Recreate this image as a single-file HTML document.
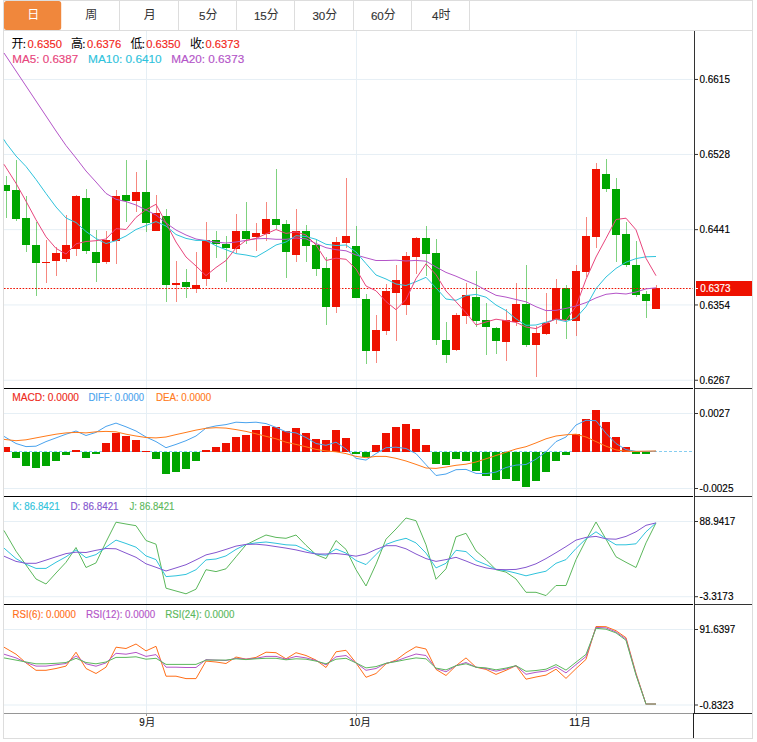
<!DOCTYPE html>
<html><head><meta charset="utf-8"><title>K</title>
<style>
html,body{margin:0;padding:0;background:#fff;}
svg{display:block;font-family:"Liberation Sans","Noto Sans CJK SC",sans-serif;}
rect{shape-rendering:crispEdges;}
</style></head><body>
<svg width="757" height="742" viewBox="0 0 757 742">
<rect x="0" y="0" width="757" height="742" fill="#ffffff"/>
<rect x="3" y="0" width="750" height="1" fill="#dddddd"/>
<rect x="3" y="738" width="750" height="1" fill="#dddddd"/>
<rect x="3" y="0" width="1" height="739" fill="#dddddd"/>
<rect x="752" y="0" width="1" height="739" fill="#dddddd"/>
<rect x="4" y="30" width="748" height="1" fill="#dddddd"/>
<rect x="119" y="1" width="1" height="29" fill="#dddddd"/>
<rect x="178" y="1" width="1" height="29" fill="#dddddd"/>
<rect x="236" y="1" width="1" height="29" fill="#dddddd"/>
<rect x="294" y="1" width="1" height="29" fill="#dddddd"/>
<rect x="353" y="1" width="1" height="29" fill="#dddddd"/>
<rect x="411" y="1" width="1" height="29" fill="#dddddd"/>
<rect x="469" y="1" width="1" height="29" fill="#dddddd"/>
<rect x="4" y="1" width="57.2" height="29" rx="2.5" ry="2.5" fill="#f0873c" style="shape-rendering:auto"/>
<text x="27.3" y="19.4" font-size="12" fill="#ffffff" font-family="'Liberation Sans','Noto Sans CJK SC',sans-serif">日</text>
<text x="85.3" y="19.4" font-size="12" fill="#333333" font-family="'Liberation Sans','Noto Sans CJK SC',sans-serif">周</text>
<text x="143.8" y="19.4" font-size="12" fill="#333333" font-family="'Liberation Sans','Noto Sans CJK SC',sans-serif">月</text>
<text x="199.1" y="19.6" font-size="11.6" fill="#333333" stroke="#333333" stroke-width="0.15">5</text>
<text x="205.525" y="19.4" font-size="12" fill="#333333" font-family="'Liberation Sans','Noto Sans CJK SC',sans-serif">分</text>
<text x="253.9" y="19.6" font-size="11.6" fill="#333333" stroke="#333333" stroke-width="0.15">15</text>
<text x="266.75" y="19.4" font-size="12" fill="#333333" font-family="'Liberation Sans','Noto Sans CJK SC',sans-serif">分</text>
<text x="312.4" y="19.6" font-size="11.6" fill="#333333" stroke="#333333" stroke-width="0.15">30</text>
<text x="325.25" y="19.4" font-size="12" fill="#333333" font-family="'Liberation Sans','Noto Sans CJK SC',sans-serif">分</text>
<text x="370.9" y="19.6" font-size="11.6" fill="#333333" stroke="#333333" stroke-width="0.15">60</text>
<text x="383.75" y="19.4" font-size="12" fill="#333333" font-family="'Liberation Sans','Noto Sans CJK SC',sans-serif">分</text>
<text x="432.1" y="19.6" font-size="11.6" fill="#333333" stroke="#333333" stroke-width="0.15">4</text>
<text x="438.525" y="19.4" font-size="12" fill="#333333" font-family="'Liberation Sans','Noto Sans CJK SC',sans-serif">时</text>
<rect x="4" y="78.95" width="689" height="1" fill="#e6eff5" style="shape-rendering:auto"/>
<rect x="4" y="153.95" width="689" height="1" fill="#e6eff5" style="shape-rendering:auto"/>
<rect x="4" y="229.15" width="689" height="1" fill="#e6eff5" style="shape-rendering:auto"/>
<rect x="4" y="304.45" width="689" height="1" fill="#e6eff5" style="shape-rendering:auto"/>
<rect x="4" y="379.75" width="689" height="1" fill="#e6eff5" style="shape-rendering:auto"/>
<rect x="4" y="413" width="689" height="1" fill="#e6eff5" style="shape-rendering:auto"/>
<rect x="4" y="488" width="689" height="1" fill="#e6eff5" style="shape-rendering:auto"/>
<rect x="4" y="521" width="689" height="1" fill="#e6eff5" style="shape-rendering:auto"/>
<rect x="4" y="596.2" width="689" height="1" fill="#e6eff5" style="shape-rendering:auto"/>
<rect x="4" y="629" width="689" height="1" fill="#e6eff5" style="shape-rendering:auto"/>
<rect x="4" y="704.5" width="689" height="1" fill="#e6eff5" style="shape-rendering:auto"/>
<rect x="146" y="31" width="1" height="682" fill="#e6eff5"/>
<rect x="356" y="31" width="1" height="682" fill="#e6eff5"/>
<rect x="576" y="31" width="1" height="682" fill="#e6eff5"/>
<rect x="6" y="176" width="1" height="42" fill="#00a600" fill-opacity="0.5"/>
<rect x="4" y="185" width="6" height="6" fill="#00a600"/>
<rect x="16" y="160" width="1" height="61" fill="#00a600" fill-opacity="0.5"/>
<rect x="12" y="190" width="8" height="29" fill="#00a600"/>
<rect x="26" y="196" width="1" height="56" fill="#00a600" fill-opacity="0.5"/>
<rect x="22" y="218" width="8" height="27" fill="#00a600"/>
<rect x="36" y="222" width="1" height="74" fill="#00a600" fill-opacity="0.5"/>
<rect x="32" y="245" width="8" height="18" fill="#00a600"/>
<rect x="46" y="240" width="1" height="43" fill="#ee1100" fill-opacity="0.5"/>
<rect x="42" y="262" width="8" height="1" fill="#ee1100"/>
<rect x="56" y="247" width="1" height="29" fill="#ee1100" fill-opacity="0.5"/>
<rect x="52" y="253" width="8" height="8" fill="#ee1100"/>
<rect x="66" y="215" width="1" height="47" fill="#ee1100" fill-opacity="0.5"/>
<rect x="62" y="245" width="8" height="14" fill="#ee1100"/>
<rect x="76" y="195" width="1" height="61" fill="#ee1100" fill-opacity="0.5"/>
<rect x="72" y="196" width="8" height="53" fill="#ee1100"/>
<rect x="86" y="189" width="1" height="65" fill="#00a600" fill-opacity="0.5"/>
<rect x="82" y="198" width="8" height="53" fill="#00a600"/>
<rect x="96" y="230" width="1" height="52" fill="#00a600" fill-opacity="0.5"/>
<rect x="92" y="252" width="8" height="11" fill="#00a600"/>
<rect x="106" y="231" width="1" height="33" fill="#ee1100" fill-opacity="0.5"/>
<rect x="102" y="240" width="8" height="22" fill="#ee1100"/>
<rect x="116" y="190" width="1" height="74" fill="#ee1100" fill-opacity="0.5"/>
<rect x="112" y="196" width="8" height="45" fill="#ee1100"/>
<rect x="126" y="160" width="1" height="62" fill="#00a600" fill-opacity="0.5"/>
<rect x="122" y="195" width="8" height="6" fill="#00a600"/>
<rect x="136" y="172" width="1" height="40" fill="#ee1100" fill-opacity="0.5"/>
<rect x="132" y="192" width="8" height="9" fill="#ee1100"/>
<rect x="146" y="160" width="1" height="72" fill="#00a600" fill-opacity="0.5"/>
<rect x="142" y="192" width="8" height="31" fill="#00a600"/>
<rect x="156" y="195" width="1" height="36" fill="#ee1100" fill-opacity="0.5"/>
<rect x="152" y="213" width="8" height="18" fill="#ee1100"/>
<rect x="166" y="209" width="1" height="93" fill="#00a600" fill-opacity="0.5"/>
<rect x="162" y="216" width="8" height="69" fill="#00a600"/>
<rect x="176" y="261" width="1" height="41" fill="#ee1100" fill-opacity="0.5"/>
<rect x="172" y="283" width="8" height="2" fill="#ee1100"/>
<rect x="186" y="269" width="1" height="29" fill="#00a600" fill-opacity="0.5"/>
<rect x="182" y="282" width="8" height="5" fill="#00a600"/>
<rect x="196" y="252" width="1" height="41" fill="#ee1100" fill-opacity="0.5"/>
<rect x="192" y="285" width="8" height="4" fill="#ee1100"/>
<rect x="206" y="222" width="1" height="64" fill="#ee1100" fill-opacity="0.5"/>
<rect x="202" y="240" width="8" height="39" fill="#ee1100"/>
<rect x="216" y="231" width="1" height="27" fill="#00a600" fill-opacity="0.5"/>
<rect x="212" y="240" width="8" height="4" fill="#00a600"/>
<rect x="226" y="236" width="1" height="46" fill="#00a600" fill-opacity="0.5"/>
<rect x="222" y="244" width="8" height="4" fill="#00a600"/>
<rect x="236" y="214" width="1" height="39" fill="#ee1100" fill-opacity="0.5"/>
<rect x="232" y="231" width="8" height="18" fill="#ee1100"/>
<rect x="246" y="202" width="1" height="42" fill="#00a600" fill-opacity="0.5"/>
<rect x="242" y="231" width="8" height="8" fill="#00a600"/>
<rect x="256" y="223" width="1" height="28" fill="#ee1100" fill-opacity="0.5"/>
<rect x="252" y="233" width="8" height="4" fill="#ee1100"/>
<rect x="266" y="202" width="1" height="39" fill="#ee1100" fill-opacity="0.5"/>
<rect x="262" y="219" width="8" height="15" fill="#ee1100"/>
<rect x="276" y="169" width="1" height="60" fill="#00a600" fill-opacity="0.5"/>
<rect x="272" y="219" width="8" height="6" fill="#00a600"/>
<rect x="286" y="220" width="1" height="58" fill="#00a600" fill-opacity="0.5"/>
<rect x="282" y="224" width="8" height="28" fill="#00a600"/>
<rect x="296" y="209" width="1" height="53" fill="#ee1100" fill-opacity="0.5"/>
<rect x="292" y="231" width="8" height="24" fill="#ee1100"/>
<rect x="306" y="225" width="1" height="37" fill="#00a600" fill-opacity="0.5"/>
<rect x="302" y="231" width="8" height="15" fill="#00a600"/>
<rect x="316" y="240" width="1" height="36" fill="#00a600" fill-opacity="0.5"/>
<rect x="312" y="245" width="8" height="24" fill="#00a600"/>
<rect x="326" y="257" width="1" height="68" fill="#00a600" fill-opacity="0.5"/>
<rect x="322" y="268" width="8" height="39" fill="#00a600"/>
<rect x="336" y="237" width="1" height="76" fill="#ee1100" fill-opacity="0.5"/>
<rect x="332" y="242" width="8" height="65" fill="#ee1100"/>
<rect x="346" y="178" width="1" height="70" fill="#ee1100" fill-opacity="0.5"/>
<rect x="342" y="236" width="8" height="7" fill="#ee1100"/>
<rect x="356" y="226" width="1" height="72" fill="#00a600" fill-opacity="0.5"/>
<rect x="352" y="246" width="8" height="52" fill="#00a600"/>
<rect x="366" y="294" width="1" height="70" fill="#00a600" fill-opacity="0.5"/>
<rect x="362" y="299" width="8" height="52" fill="#00a600"/>
<rect x="376" y="315" width="1" height="48" fill="#ee1100" fill-opacity="0.5"/>
<rect x="372" y="330" width="8" height="21" fill="#ee1100"/>
<rect x="386" y="284" width="1" height="51" fill="#ee1100" fill-opacity="0.5"/>
<rect x="382" y="291" width="8" height="40" fill="#ee1100"/>
<rect x="396" y="265" width="1" height="76" fill="#ee1100" fill-opacity="0.5"/>
<rect x="392" y="280" width="8" height="13" fill="#ee1100"/>
<rect x="406" y="252" width="1" height="63" fill="#ee1100" fill-opacity="0.5"/>
<rect x="402" y="256" width="8" height="49" fill="#ee1100"/>
<rect x="416" y="237" width="1" height="37" fill="#ee1100" fill-opacity="0.5"/>
<rect x="412" y="238" width="8" height="19" fill="#ee1100"/>
<rect x="426" y="226" width="1" height="50" fill="#00a600" fill-opacity="0.5"/>
<rect x="422" y="238" width="8" height="16" fill="#00a600"/>
<rect x="436" y="239" width="1" height="106" fill="#00a600" fill-opacity="0.5"/>
<rect x="432" y="253" width="8" height="87" fill="#00a600"/>
<rect x="446" y="322" width="1" height="41" fill="#00a600" fill-opacity="0.5"/>
<rect x="442" y="340" width="8" height="15" fill="#00a600"/>
<rect x="456" y="313" width="1" height="38" fill="#ee1100" fill-opacity="0.5"/>
<rect x="452" y="315" width="8" height="35" fill="#ee1100"/>
<rect x="466" y="283" width="1" height="41" fill="#ee1100" fill-opacity="0.5"/>
<rect x="462" y="295" width="8" height="21" fill="#ee1100"/>
<rect x="476" y="271" width="1" height="56" fill="#00a600" fill-opacity="0.5"/>
<rect x="472" y="297" width="8" height="24" fill="#00a600"/>
<rect x="486" y="303" width="1" height="52" fill="#00a600" fill-opacity="0.5"/>
<rect x="482" y="320" width="8" height="7" fill="#00a600"/>
<rect x="496" y="327" width="1" height="27" fill="#00a600" fill-opacity="0.5"/>
<rect x="492" y="328" width="8" height="13" fill="#00a600"/>
<rect x="506" y="309" width="1" height="52" fill="#ee1100" fill-opacity="0.5"/>
<rect x="502" y="320" width="8" height="22" fill="#ee1100"/>
<rect x="516" y="283" width="1" height="43" fill="#ee1100" fill-opacity="0.5"/>
<rect x="512" y="304" width="8" height="18" fill="#ee1100"/>
<rect x="526" y="265" width="1" height="82" fill="#00a600" fill-opacity="0.5"/>
<rect x="522" y="304" width="8" height="41" fill="#00a600"/>
<rect x="536" y="326" width="1" height="51" fill="#ee1100" fill-opacity="0.5"/>
<rect x="532" y="333" width="8" height="12" fill="#ee1100"/>
<rect x="546" y="293" width="1" height="42" fill="#ee1100" fill-opacity="0.5"/>
<rect x="542" y="323" width="8" height="11" fill="#ee1100"/>
<rect x="556" y="279" width="1" height="45" fill="#ee1100" fill-opacity="0.5"/>
<rect x="552" y="288" width="8" height="32" fill="#ee1100"/>
<rect x="566" y="285" width="1" height="54" fill="#00a600" fill-opacity="0.5"/>
<rect x="562" y="288" width="8" height="32" fill="#00a600"/>
<rect x="576" y="265" width="1" height="71" fill="#ee1100" fill-opacity="0.5"/>
<rect x="572" y="271" width="8" height="50" fill="#ee1100"/>
<rect x="586" y="217" width="1" height="60" fill="#ee1100" fill-opacity="0.5"/>
<rect x="582" y="236" width="8" height="36" fill="#ee1100"/>
<rect x="596" y="163" width="1" height="85" fill="#ee1100" fill-opacity="0.5"/>
<rect x="592" y="169" width="8" height="68" fill="#ee1100"/>
<rect x="606" y="159" width="1" height="33" fill="#00a600" fill-opacity="0.5"/>
<rect x="602" y="174" width="8" height="15" fill="#00a600"/>
<rect x="616" y="178" width="1" height="84" fill="#00a600" fill-opacity="0.5"/>
<rect x="612" y="189" width="8" height="46" fill="#00a600"/>
<rect x="626" y="222" width="1" height="45" fill="#00a600" fill-opacity="0.5"/>
<rect x="622" y="234" width="8" height="31" fill="#00a600"/>
<rect x="636" y="241" width="1" height="56" fill="#00a600" fill-opacity="0.5"/>
<rect x="632" y="265" width="8" height="30" fill="#00a600"/>
<rect x="646" y="291" width="1" height="27" fill="#00a600" fill-opacity="0.5"/>
<rect x="642" y="294" width="8" height="7" fill="#00a600"/>
<rect x="656" y="285" width="1" height="24" fill="#ee1100" fill-opacity="0.5"/>
<rect x="652" y="288" width="8" height="21" fill="#ee1100"/>
<line x1="4" y1="288.5" x2="692.6" y2="288.5" stroke="#ee1100" stroke-width="1.15" stroke-dasharray="1.6 1.5"/>
<polyline points="4,53 6,56 16,71 26,86 36,101 46,116 56,131 66,145.5 76,158 86,171 96,182 106,193.4 116,199.3 126,201.6 136,205 146,210 156,215 166,223 176,230 186,235 196,239 206,240.7 216,242.2 226,243 236,242 246,240.4 256,238.8 266,238.5 276,239.3 286,239.3 296,238 306,238.8 316,243.5 326,247.7 336,249.7 346,250.8 356,255 366,257.8 376,260.5 386,260.5 396,260.2 406,261 416,260.4 426,261.2 436,267 446,272.4 456,276.2 466,280.6 476,284.8 486,290.2 496,295.3 506,297.1 516,299.5 526,301.8 536,306.7 546,310.6 556,310.3 566,308.4 576,306 586,302.6 596,297.9 606,294.3 616,293.2 626,294 636,292 646,288.9 656,287.8" fill="none" stroke="#b455c8" stroke-width="1.0" stroke-linejoin="round"/>
<polyline points="4,139.5 6,143 16,156 26,166.5 36,179.5 46,193.5 56,207 66,218 76,222.5 86,231.5 96,238.5 106,243.5 116,240.7 126,236 136,229.5 146,225.5 156,221.6 166,226 176,234.5 186,238.4 196,240.4 206,240.4 216,245.8 226,249.7 236,253.6 246,255 256,257 266,251.2 276,245 286,242 296,235.7 306,236.5 316,239.3 326,244.3 336,245.5 346,245 356,252 366,263.6 376,275 386,279 396,284 406,285.5 416,281.7 426,277.3 436,287.9 446,299 456,300.3 466,295.6 476,294.4 486,297.2 496,305 506,310.6 516,318.8 526,325.3 536,325 546,322.2 556,319.3 566,321.6 576,317.8 586,306.7 596,288.6 606,277 616,268.4 626,262.2 636,258.6 646,256.8 656,256.5" fill="none" stroke="#2fc3dc" stroke-width="1.0" stroke-linejoin="round"/>
<polyline points="4,164.3 6,167.5 16,183.3 26,201.2 36,219.8 46,236.8 56,248.4 66,254 76,243.8 86,241.5 96,240.7 106,239 116,228.6 126,229.5 136,217.4 146,209.7 156,204.3 166,222.9 176,242 186,257 196,266 206,275.6 216,267.5 226,260.5 236,248 246,240.4 256,238.4 266,233.9 276,229.5 286,233.4 296,231.9 306,235 316,245 326,260.5 336,258.2 346,259.3 356,269 366,286 376,290.8 386,301.6 396,309.7 406,299.5 416,278.6 426,263.8 436,274.7 446,291 456,301.8 466,312.7 476,325 486,322 496,319.2 506,320.7 516,322.4 526,327 536,328.6 546,323.5 556,318.8 566,320.4 576,306.4 586,279.3 596,257 606,238.4 616,219.5 626,218.2 636,229.8 646,258.3 656,275.7" fill="none" stroke="#e8457c" stroke-width="1.0" stroke-linejoin="round"/>
<line x1="4" y1="451.5" x2="694" y2="451.5" stroke="#86cdf0" stroke-width="1" stroke-dasharray="3 2"/>
<rect x="4" y="447.2" width="6" height="4.3" fill="#ee1100"/>
<rect x="12" y="451.5" width="8" height="6.2" fill="#00a600"/>
<rect x="22" y="451.5" width="8" height="14.2" fill="#00a600"/>
<rect x="32" y="451.5" width="8" height="16.5" fill="#00a600"/>
<rect x="42" y="451.5" width="8" height="14.2" fill="#00a600"/>
<rect x="52" y="451.5" width="8" height="9" fill="#00a600"/>
<rect x="62" y="451.5" width="8" height="3.5" fill="#00a600"/>
<rect x="72" y="449.6" width="8" height="1.9" fill="#ee1100"/>
<rect x="82" y="451.5" width="8" height="6.8" fill="#00a600"/>
<rect x="92" y="451.5" width="8" height="2.1" fill="#00a600"/>
<rect x="102" y="442.5" width="8" height="9" fill="#ee1100"/>
<rect x="112" y="433.3" width="8" height="18.2" fill="#ee1100"/>
<rect x="122" y="436" width="8" height="15.5" fill="#ee1100"/>
<rect x="132" y="439.8" width="8" height="11.7" fill="#ee1100"/>
<rect x="142" y="450.6" width="8" height="0.9" fill="#ee1100"/>
<rect x="152" y="451.5" width="8" height="7.3" fill="#00a600"/>
<rect x="162" y="451.5" width="8" height="22.1" fill="#00a600"/>
<rect x="172" y="451.5" width="8" height="20.3" fill="#00a600"/>
<rect x="182" y="451.5" width="8" height="17.3" fill="#00a600"/>
<rect x="192" y="451.5" width="8" height="9.5" fill="#00a600"/>
<rect x="202" y="449.6" width="8" height="1.9" fill="#ee1100"/>
<rect x="212" y="447.2" width="8" height="4.3" fill="#ee1100"/>
<rect x="222" y="443.1" width="8" height="8.4" fill="#ee1100"/>
<rect x="232" y="437" width="8" height="14.5" fill="#ee1100"/>
<rect x="242" y="434.6" width="8" height="16.9" fill="#ee1100"/>
<rect x="252" y="429.6" width="8" height="21.9" fill="#ee1100"/>
<rect x="262" y="425.9" width="8" height="25.6" fill="#ee1100"/>
<rect x="272" y="427.4" width="8" height="24.1" fill="#ee1100"/>
<rect x="282" y="430.9" width="8" height="20.6" fill="#ee1100"/>
<rect x="292" y="428.1" width="8" height="23.4" fill="#ee1100"/>
<rect x="302" y="433.3" width="8" height="18.2" fill="#ee1100"/>
<rect x="312" y="438.5" width="8" height="13" fill="#ee1100"/>
<rect x="322" y="439.8" width="8" height="11.7" fill="#ee1100"/>
<rect x="332" y="430" width="8" height="21.5" fill="#ee1100"/>
<rect x="342" y="437.9" width="8" height="13.6" fill="#ee1100"/>
<rect x="352" y="451.5" width="8" height="2.1" fill="#00a600"/>
<rect x="362" y="451.5" width="8" height="5.8" fill="#00a600"/>
<rect x="372" y="444.9" width="8" height="6.6" fill="#ee1100"/>
<rect x="382" y="432.9" width="8" height="18.6" fill="#ee1100"/>
<rect x="392" y="427.2" width="8" height="24.3" fill="#ee1100"/>
<rect x="402" y="424" width="8" height="27.5" fill="#ee1100"/>
<rect x="412" y="429" width="8" height="22.5" fill="#ee1100"/>
<rect x="422" y="444.9" width="8" height="6.6" fill="#ee1100"/>
<rect x="432" y="451.5" width="8" height="12.7" fill="#00a600"/>
<rect x="442" y="451.5" width="8" height="13.2" fill="#00a600"/>
<rect x="452" y="451.5" width="8" height="7.3" fill="#00a600"/>
<rect x="462" y="451.5" width="8" height="9.5" fill="#00a600"/>
<rect x="472" y="451.5" width="8" height="19.3" fill="#00a600"/>
<rect x="482" y="451.5" width="8" height="24.3" fill="#00a600"/>
<rect x="492" y="451.5" width="8" height="28.4" fill="#00a600"/>
<rect x="502" y="451.5" width="8" height="27.1" fill="#00a600"/>
<rect x="512" y="451.5" width="8" height="29.3" fill="#00a600"/>
<rect x="522" y="451.5" width="8" height="35.1" fill="#00a600"/>
<rect x="532" y="451.5" width="8" height="29.3" fill="#00a600"/>
<rect x="542" y="451.5" width="8" height="20.6" fill="#00a600"/>
<rect x="552" y="451.5" width="8" height="9.5" fill="#00a600"/>
<rect x="562" y="451.5" width="8" height="3.4" fill="#00a600"/>
<rect x="572" y="433.8" width="8" height="17.7" fill="#ee1100"/>
<rect x="582" y="419" width="8" height="32.5" fill="#ee1100"/>
<rect x="592" y="410.2" width="8" height="41.3" fill="#ee1100"/>
<rect x="602" y="422.2" width="8" height="29.3" fill="#ee1100"/>
<rect x="612" y="437" width="8" height="14.5" fill="#ee1100"/>
<rect x="622" y="447.2" width="8" height="4.3" fill="#ee1100"/>
<rect x="632" y="451.5" width="8" height="2.1" fill="#00a600"/>
<rect x="642" y="451.5" width="8" height="2.1" fill="#00a600"/>
<polyline points="4,436.4 16,443.5 26,446.6 36,446.2 46,441.6 56,437.9 66,434.2 76,431 86,435.5 96,432.4 106,426.4 116,423.1 126,426.8 136,431 146,437 156,441.6 166,447.7 176,444.4 186,440.7 196,436 206,428.1 216,425.9 226,424.6 236,422.2 246,422.7 256,422.2 266,423.6 276,427.4 286,431.8 296,432.9 306,437.5 316,443.5 326,445.3 336,442.2 346,449 356,458.3 366,460.1 376,453.6 386,447.7 396,447.2 406,448.5 416,453.6 426,464.7 436,475.5 446,474 456,469.7 466,469.4 476,473.4 486,473.6 496,472.1 506,467.5 516,465.1 526,464.5 536,459.2 546,451.8 556,441.6 566,437 576,425 586,420.3 596,420.7 606,433.3 616,443.5 626,449.6 636,451.4 646,451.4 656,451.2" fill="none" stroke="#4aa3ee" stroke-width="1.0" stroke-linejoin="round"/>
<polyline points="4,439.4 16,440.7 26,439.8 36,437.9 46,436 56,434.2 66,432.9 76,432.4 86,432.9 96,431.8 106,431.4 116,431.8 126,434.2 136,436 146,437.5 156,437.9 166,437 176,434.6 186,432.4 196,430.1 206,428.3 216,427.7 226,428.1 236,429.6 246,431.4 256,433.8 266,436.3 276,438.8 286,442.2 296,444.4 306,446.8 316,449.4 326,450.9 336,451.8 346,453.6 356,456.4 366,457.7 376,456.4 386,456.4 396,458.3 406,461 416,464.4 426,468 436,468.4 446,467 456,465.3 466,464.2 476,462 486,458.8 496,455.5 506,452.3 516,449 526,446.7 536,442.9 546,438.8 556,436 566,434.8 576,434.2 586,437 596,441.6 606,446.2 616,449.9 626,451.2 636,451.4 646,451.2 656,451" fill="none" stroke="#ff7a1a" stroke-width="1.0" stroke-linejoin="round"/>
<polyline points="4,530.5 16,551.2 26,565 36,579 46,584 56,573 66,562.3 76,547.5 86,567.5 96,562.9 106,542 116,522.2 126,524 136,525.7 146,540.5 156,544.2 166,588.2 176,591 186,593.8 196,589.2 206,569.7 216,571.6 226,568.8 236,556.8 246,544.8 256,539.8 266,535 276,537.4 286,538.3 296,535 306,545.3 316,554.6 326,558.6 336,540.5 346,549.4 356,569.7 366,586 376,564.2 386,539.2 396,529 406,518 416,520.7 426,544.8 436,579.3 446,568.8 456,536.8 466,533.3 476,550.9 486,559.6 496,569.7 506,572.1 516,579 526,592.3 536,592.3 546,595.6 556,585.5 566,585.5 576,559.6 586,540.1 596,522 606,539.2 616,556.8 626,562.3 636,567.5 646,542.9 656,522.9" fill="none" stroke="#5cb85c" stroke-width="1.0" stroke-linejoin="round"/>
<polyline points="4,548.1 16,558.6 26,564.2 36,568.4 46,568.4 56,562.3 66,556.8 76,549.9 86,557.7 96,554.6 106,547.2 116,540.1 126,543.5 136,547.2 146,555.9 156,559.6 166,576.6 176,575.8 186,574.4 196,569.7 206,559.9 216,559 226,555.9 236,549.4 246,544.4 256,542.9 266,542 276,543.3 286,544.8 296,545.3 306,549.9 316,554 326,555.3 336,549 346,553.1 356,560.5 366,564.6 376,554.6 386,544.4 396,540.8 406,538.3 416,542.9 426,553.1 436,567.9 446,563.3 456,550.3 466,551.6 476,560.5 486,564.6 496,569.4 506,570.7 516,573.1 526,575.8 536,573.4 546,571.2 556,563.3 566,559.6 576,548.5 586,538.8 596,531.8 606,538.8 616,544.8 626,544.8 636,543.8 646,531.8 656,522.9" fill="none" stroke="#2fc3dc" stroke-width="1.0" stroke-linejoin="round"/>
<polyline points="4,556.2 16,561.4 26,563.3 36,563.3 46,560.1 56,556.8 66,553.6 76,552.2 86,552.5 96,550.3 106,548.5 116,548.8 126,553.1 136,557.3 146,563.8 156,567.3 166,571 176,567.9 186,564.7 196,559.9 206,554.9 216,552.5 226,549.4 236,546.1 246,544.4 256,544.2 266,545.1 276,546.6 286,548.1 296,549.9 306,552.2 316,554 326,554 336,553.5 346,554.6 356,556.2 366,554 376,549.4 386,545.7 396,545.7 406,548.8 416,554 426,558.6 436,561.4 446,559.6 456,557.3 466,561 476,565.1 486,567.9 496,569.4 506,569.7 516,569.4 526,567.3 536,563.8 546,558.6 556,552.7 566,546.6 576,540.1 586,537.4 596,536.4 606,538.8 616,539.2 626,536.4 636,531.8 646,525.3 656,522.9" fill="none" stroke="#8456cf" stroke-width="1.0" stroke-linejoin="round"/>
<polyline points="4,647.2 16,654.2 26,662.9 36,670.3 46,670.3 56,668.5 66,666.1 76,652.2 86,668.5 96,673.5 106,667.2 116,647.2 126,648.5 136,644 146,650.9 156,646.3 166,676.2 176,676.2 186,678.6 196,678.6 206,661.1 216,662 226,663.5 236,657 246,659.2 256,657.4 266,652.2 276,652.7 286,658.8 296,652.7 306,655.5 316,660.1 326,667.5 336,651.8 346,650.3 356,662.9 366,677.3 376,673.5 386,663.8 396,660.1 406,652.7 416,646.8 426,649 436,669.4 446,675.5 456,665.7 466,657.9 476,667.2 486,669.4 496,674.4 506,670.3 516,665.7 526,679.2 536,677 546,675.1 556,669.2 566,678.4 576,668.6 586,659.4 596,626.5 606,626.7 616,630.7 626,637.7 636,673.3 646,704.1 656,704.1" fill="none" stroke="#ff6f1a" stroke-width="1.0" stroke-linejoin="round"/>
<polyline points="4,654.2 16,657.9 26,662.5 36,666.1 46,666.1 56,664.8 66,663.5 76,655.9 86,663.8 96,666.2 106,662.9 116,653.3 126,654.2 136,652.4 146,656.4 156,654.6 166,667.2 176,667.2 186,667.5 196,667.5 206,659.6 216,660.1 226,660.5 236,658.3 246,659.2 256,658.3 266,656.4 276,656.4 286,659.2 296,656.4 306,657.9 316,660.5 326,664.8 336,656.8 346,655.5 356,662.9 366,670.3 376,668.5 386,663.3 396,661.1 406,657.4 416,654 426,655.5 436,668.5 446,671.8 456,665.7 466,662.5 476,667.2 486,668.5 496,671.2 506,669 516,665.7 526,674.3 536,672.3 546,671 556,666.8 566,672.9 576,664.6 586,656.6 596,627.4 606,627.9 616,632 626,639 636,674.2 646,704.1 656,704.1" fill="none" stroke="#b455c8" stroke-width="1.0" stroke-linejoin="round"/>
<polyline points="4,657.9 16,660.1 26,662 36,663.8 46,663.8 56,663.3 66,662.5 76,658.3 86,662.5 96,663.8 106,662 116,657.4 126,657.4 136,656.8 146,659.2 156,658.3 166,664.4 176,664.4 186,664.4 196,664.4 206,660.1 216,660.1 226,660.1 236,658.8 246,659.6 256,658.8 266,658.3 276,658.3 286,659.8 296,658.8 306,659.2 316,661.1 326,663.8 336,659.2 346,658.3 356,662.9 366,667.9 376,666.6 386,663.3 396,661.6 406,659.6 416,657.9 426,658.8 436,668.1 446,669.9 456,665.7 466,663.8 476,667.2 486,667.9 496,669.8 506,668.1 516,665.7 526,671.3 536,670.5 546,669.2 556,664.6 566,670.1 576,662.2 586,654.4 596,628.3 606,629.2 616,632.9 626,640.3 636,675.1 646,704.1 656,704.1" fill="none" stroke="#5cb85c" stroke-width="1.0" stroke-linejoin="round"/>
<line x1="645.5" y1="704.1" x2="656" y2="704.1" stroke="#a59c86" stroke-width="1.6"/>
<rect x="4" y="388" width="689" height="1" fill="#000000"/>
<rect x="695" y="388" width="57" height="1" fill="#333333"/>
<rect x="4" y="496" width="689" height="1" fill="#000000"/>
<rect x="695" y="496" width="57" height="1" fill="#333333"/>
<rect x="4" y="604" width="689" height="1" fill="#000000"/>
<rect x="695" y="604" width="57" height="1" fill="#333333"/>
<rect x="4" y="713" width="689" height="1" fill="#969696"/>
<rect x="693" y="713" width="59" height="1" fill="#222222"/>
<rect x="694" y="31" width="1" height="682" fill="#333333"/>
<rect x="693" y="713" width="1" height="25" fill="#222222"/>
<rect x="146" y="714" width="1" height="2" fill="#999999"/>
<rect x="356" y="714" width="1" height="2" fill="#999999"/>
<rect x="576" y="714" width="1" height="2" fill="#999999"/>
<rect x="695" y="78.95" width="3" height="1" fill="#333333" style="shape-rendering:auto"/>
<text x="699.6" y="83.10" font-size="10.3" fill="#000000" stroke="#000000" stroke-width="0.15" textLength="30.3" lengthAdjust="spacingAndGlyphs">0.6615</text>
<rect x="695" y="153.95" width="3" height="1" fill="#333333" style="shape-rendering:auto"/>
<text x="699.6" y="158.10" font-size="10.3" fill="#000000" stroke="#000000" stroke-width="0.15" textLength="30.3" lengthAdjust="spacingAndGlyphs">0.6528</text>
<rect x="695" y="229.15" width="3" height="1" fill="#333333" style="shape-rendering:auto"/>
<text x="699.6" y="233.30" font-size="10.3" fill="#000000" stroke="#000000" stroke-width="0.15" textLength="30.3" lengthAdjust="spacingAndGlyphs">0.6441</text>
<rect x="695" y="304.45" width="3" height="1" fill="#333333" style="shape-rendering:auto"/>
<text x="699.6" y="308.60" font-size="10.3" fill="#000000" stroke="#000000" stroke-width="0.15" textLength="30.3" lengthAdjust="spacingAndGlyphs">0.6354</text>
<rect x="695" y="379.75" width="3" height="1" fill="#333333" style="shape-rendering:auto"/>
<text x="699.6" y="383.90" font-size="10.3" fill="#000000" stroke="#000000" stroke-width="0.15" textLength="30.3" lengthAdjust="spacingAndGlyphs">0.6267</text>
<rect x="695" y="413" width="3" height="1" fill="#333333" style="shape-rendering:auto"/>
<text x="699.6" y="417.15" font-size="10.3" fill="#000000" stroke="#000000" stroke-width="0.15" textLength="30.3" lengthAdjust="spacingAndGlyphs">0.0027</text>
<rect x="695" y="488" width="3" height="1" fill="#333333" style="shape-rendering:auto"/>
<text x="699.6" y="492.15" font-size="10.3" fill="#000000" stroke="#000000" stroke-width="0.15" textLength="33.9" lengthAdjust="spacingAndGlyphs">-0.0025</text>
<rect x="695" y="521" width="3" height="1" fill="#333333" style="shape-rendering:auto"/>
<text x="699.6" y="525.15" font-size="10.3" fill="#000000" stroke="#000000" stroke-width="0.15" textLength="35.8" lengthAdjust="spacingAndGlyphs">88.9417</text>
<rect x="695" y="596.2" width="3" height="1" fill="#333333" style="shape-rendering:auto"/>
<text x="699.6" y="600.35" font-size="10.3" fill="#000000" stroke="#000000" stroke-width="0.15" textLength="33.9" lengthAdjust="spacingAndGlyphs">-3.3173</text>
<rect x="695" y="629" width="3" height="1" fill="#333333" style="shape-rendering:auto"/>
<text x="699.6" y="633.15" font-size="10.3" fill="#000000" stroke="#000000" stroke-width="0.15" textLength="35.8" lengthAdjust="spacingAndGlyphs">91.6397</text>
<rect x="695" y="704.5" width="3" height="1" fill="#333333" style="shape-rendering:auto"/>
<text x="699.6" y="708.65" font-size="10.3" fill="#000000" stroke="#000000" stroke-width="0.15" textLength="33.9" lengthAdjust="spacingAndGlyphs">-0.8323</text>
<rect x="696" y="281" width="56" height="15" fill="#ee1100"/>
<rect x="696" y="288" width="2" height="1" fill="#ffffff"/>
<text x="700.3" y="292.2" font-size="10.3" fill="#ffffff" stroke="#ffffff" stroke-width="0.15" textLength="30.3" lengthAdjust="spacingAndGlyphs">0.6373</text>
<text x="139.3" y="726.4" font-size="10.3" fill="#111111" stroke="#111111" stroke-width="0.15" textLength="5.5" lengthAdjust="spacingAndGlyphs">9</text>
<text x="145.06" y="726" font-size="10.3" fill="#111111" font-family="'Liberation Sans','Noto Sans CJK SC',sans-serif">月</text>
<text x="349.3" y="726.4" font-size="10.3" fill="#111111" stroke="#111111" stroke-width="0.15" textLength="10.9" lengthAdjust="spacingAndGlyphs">10</text>
<text x="360.52" y="726" font-size="10.3" fill="#111111" font-family="'Liberation Sans','Noto Sans CJK SC',sans-serif">月</text>
<text x="569.3" y="726.4" font-size="10.3" fill="#111111" stroke="#111111" stroke-width="0.15" textLength="10.9" lengthAdjust="spacingAndGlyphs">11</text>
<text x="580.52" y="726" font-size="10.3" fill="#111111" font-family="'Liberation Sans','Noto Sans CJK SC',sans-serif">月</text>
<text x="11.5" y="47.9" font-size="12" fill="#000000" font-family="'Liberation Sans','Noto Sans CJK SC',sans-serif">开</text>
<text x="22.8" y="47.8" font-size="11.6" fill="#000000" stroke="#000000" stroke-width="0.15">:</text>
<text x="27.6" y="48" font-size="11.6" fill="#f2261a" stroke="#f2261a" stroke-width="0.15" textLength="34.3" lengthAdjust="spacingAndGlyphs">0.6350</text>
<text x="71" y="47.9" font-size="12" fill="#000000" font-family="'Liberation Sans','Noto Sans CJK SC',sans-serif">高</text>
<text x="82.3" y="47.8" font-size="11.6" fill="#000000" stroke="#000000" stroke-width="0.15">:</text>
<text x="86.9" y="48" font-size="11.6" fill="#f2261a" stroke="#f2261a" stroke-width="0.15" textLength="34.3" lengthAdjust="spacingAndGlyphs">0.6376</text>
<text x="130.5" y="47.9" font-size="12" fill="#000000" font-family="'Liberation Sans','Noto Sans CJK SC',sans-serif">低</text>
<text x="141.8" y="47.8" font-size="11.6" fill="#000000" stroke="#000000" stroke-width="0.15">:</text>
<text x="146.2" y="48" font-size="11.6" fill="#f2261a" stroke="#f2261a" stroke-width="0.15" textLength="34.3" lengthAdjust="spacingAndGlyphs">0.6350</text>
<text x="190" y="47.9" font-size="12" fill="#000000" font-family="'Liberation Sans','Noto Sans CJK SC',sans-serif">收</text>
<text x="201.3" y="47.8" font-size="11.6" fill="#000000" stroke="#000000" stroke-width="0.15">:</text>
<text x="205.5" y="48" font-size="11.6" fill="#f2261a" stroke="#f2261a" stroke-width="0.15" textLength="34.3" lengthAdjust="spacingAndGlyphs">0.6373</text>
<text x="12.3" y="63" font-size="11.6" fill="#e8457c" stroke="#e8457c" stroke-width="0.15" textLength="66" lengthAdjust="spacingAndGlyphs">MA5:&#160;0.6387</text>
<text x="88.1" y="63" font-size="11.6" fill="#2fc3dc" stroke="#2fc3dc" stroke-width="0.15" textLength="73.6" lengthAdjust="spacingAndGlyphs">MA10:&#160;0.6410</text>
<text x="171.2" y="63" font-size="11.6" fill="#b455c8" stroke="#b455c8" stroke-width="0.15" textLength="73" lengthAdjust="spacingAndGlyphs">MA20:&#160;0.6373</text>
<text x="12.2" y="400.8" font-size="10.8" fill="#ee2a1a" stroke="#ee2a1a" stroke-width="0.15" textLength="66.8" lengthAdjust="spacingAndGlyphs">MACD:&#160;0.0000</text>
<text x="88.4" y="400.8" font-size="10.8" fill="#4aa3ee" stroke="#4aa3ee" stroke-width="0.15" textLength="55.6" lengthAdjust="spacingAndGlyphs">DIFF:&#160;0.0000</text>
<text x="155.9" y="400.8" font-size="10.8" fill="#ff7a1a" stroke="#ff7a1a" stroke-width="0.15" textLength="55.3" lengthAdjust="spacingAndGlyphs">DEA:&#160;0.0000</text>
<text x="12.4" y="510" font-size="10.8" fill="#2fc3dc" stroke="#2fc3dc" stroke-width="0.15" textLength="47.3" lengthAdjust="spacingAndGlyphs">K:&#160;86.8421</text>
<text x="70.4" y="510" font-size="10.8" fill="#8456cf" stroke="#8456cf" stroke-width="0.15" textLength="48.2" lengthAdjust="spacingAndGlyphs">D:&#160;86.8421</text>
<text x="129.4" y="510" font-size="10.8" fill="#5cb85c" stroke="#5cb85c" stroke-width="0.15" textLength="45" lengthAdjust="spacingAndGlyphs">J:&#160;86.8421</text>
<text x="12.6" y="618" font-size="10.8" fill="#ff6f1a" stroke="#ff6f1a" stroke-width="0.15" textLength="63.2" lengthAdjust="spacingAndGlyphs">RSI(6):&#160;0.0000</text>
<text x="85.9" y="618" font-size="10.8" fill="#b455c8" stroke="#b455c8" stroke-width="0.15" textLength="69.2" lengthAdjust="spacingAndGlyphs">RSI(12):&#160;0.0000</text>
<text x="165.2" y="618" font-size="10.8" fill="#5cb85c" stroke="#5cb85c" stroke-width="0.15" textLength="69.2" lengthAdjust="spacingAndGlyphs">RSI(24):&#160;0.0000</text>
</svg>
</body></html>
